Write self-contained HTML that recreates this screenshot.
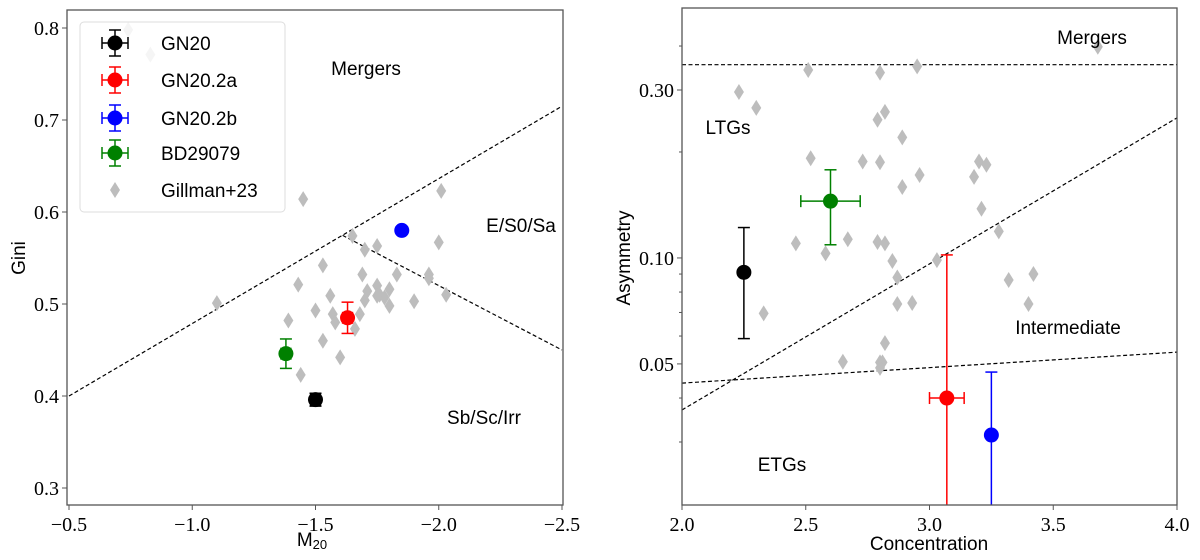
<!DOCTYPE html>
<html><head><meta charset="utf-8"><style>
html,body{margin:0;padding:0;background:#fff;overflow:hidden;width:1200px;height:560px;}
svg{display:block;overflow:hidden;}
text{font-family:"Liberation Sans",sans-serif;fill:#000;}
.tk{font-family:"Liberation Serif",serif;font-size:20px;}
</style></head><body>
<svg id="fig" width="1200" height="560" viewBox="0 0 1200 560"></svg>
<script>
// ---- Left panel data (M20 vs Gini) ----
const gilM20 = [-1.45,-2.01,-1.65,-1.75,-1.70,-2.00,-1.53,-1.69,-1.83,-1.96,-1.96,-1.43,-1.10,-1.56,-1.75,-1.71,-1.80,-1.76,-1.78,-1.75,-1.70,-1.90,-2.03,-1.80,-1.50,-1.57,-1.68,-1.58,-1.39,-1.66,-1.53,-1.60,-1.44,-0.74,-0.83];
const gilGini = [0.614,0.623,0.574,0.563,0.559,0.567,0.542,0.532,0.532,0.532,0.528,0.521,0.501,0.509,0.520,0.514,0.516,0.510,0.507,0.509,0.504,0.503,0.510,0.498,0.493,0.489,0.489,0.480,0.482,0.473,0.460,0.442,0.423,0.798,0.771];
const srcNames = ["GN20","GN20.2a","GN20.2b","BD29079"];
const srcColors = ["#000000","#ff0000","#0000ff","#008000"];
const srcM20 = [-1.50,-1.63,-1.85,-1.38];
const srcM20Err = [0.02,0.02,0.01,0.02];
const srcGini = [0.396,0.485,0.580,0.446];
const srcGiniErr = [0.007,0.017,0.004,0.016];
const leftXTicks = [-0.5,-1.0,-1.5,-2.0,-2.5];
const leftXTickLabels = ["\u22120.5","\u22121.0","\u22121.5","\u22122.0","\u22122.5"];
const leftYTicks = [0.3,0.4,0.5,0.6,0.7,0.8];
const leftYTickLabels = ["0.3","0.4","0.5","0.6","0.7","0.8"];
// ---- Right panel data (Concentration vs Asymmetry) ----
const gilConc = [2.23,2.30,2.51,2.80,2.95,2.82,2.79,2.89,2.52,2.73,2.80,3.20,3.23,2.96,3.18,2.89,3.21,3.28,2.46,2.67,2.79,2.82,2.58,2.85,3.03,2.87,3.32,3.42,2.33,2.87,2.93,3.40,2.82,2.65,2.80,2.81,2.80,3.68];
const gilAsym = [0.296,0.267,0.342,0.336,0.350,0.260,0.247,0.220,0.192,0.188,0.187,0.188,0.184,0.172,0.170,0.159,0.138,0.119,0.110,0.113,0.111,0.110,0.103,0.098,0.0986,0.088,0.0866,0.090,0.0696,0.074,0.0745,0.074,0.0573,0.0507,0.0505,0.0505,0.0487,0.398];
const srcConc = [2.25,3.07,3.25,2.60];
const srcConcErr = [0,0.07,0,0.12];
const srcAsym = [0.091,0.040,0.0314,0.145];
const srcAsymLo = [0.059,0.019,0.019,0.109];
const srcAsymHi = [0.122,0.102,0.0474,0.178];
const rightXTicks = [2.0,2.5,3.0,3.5,4.0];
const rightXTickLabels = ["2.0","2.5","3.0","3.5","4.0"];
const rightYTicks = [0.05,0.10,0.30];
const rightYTickLabels = ["0.05","0.10","0.30"];
const rightYMinor = [0.03,0.04,0.06,0.07,0.08,0.09,0.2,0.4];

const NS="http://www.w3.org/2000/svg";
const svg=document.getElementById('fig');
function mk(tag,attrs,parent){const e=document.createElementNS(NS,tag);for(const k in attrs)e.setAttribute(k,attrs[k]);(parent||svg).appendChild(e);return e;}

const L={x0:67,x1:563,y0:10,y1:505};
const lx=m=>69+(-0.5-m)*246.5;
const ly=g=>28+(0.8-g)*920;
const R={x0:682,x1:1177,y0:8,y1:505};
const rx=c=>682+(c-2)*247.5;
const ry=a=>90-(Math.log10(a)-Math.log10(0.3))*352;

function clip(id,b){const cp=mk('clipPath',{id:id});mk('rect',{x:b.x0,y:b.y0,width:b.x1-b.x0,height:b.y1-b.y0},cp);}
clip('cl',L);clip('cr',R);

function diamond(g,x,y,col){
  return mk('path',{d:`M${x} ${y-8}L${x+5} ${y}L${x} ${y+8}L${x-5} ${y}Z`,fill:col||'#bdbdbd'},g);
}
function errpt(g,x,y,xl,xr,yt,yb,col){
  if(xr-xl>1){mk('line',{x1:xl,y1:y,x2:xr,y2:y,stroke:col,'stroke-width':1.5},g);
    mk('line',{x1:xl,y1:y-6,x2:xl,y2:y+6,stroke:col,'stroke-width':1.5},g);
    mk('line',{x1:xr,y1:y-6,x2:xr,y2:y+6,stroke:col,'stroke-width':1.5},g);}
  mk('line',{x1:x,y1:yt,x2:x,y2:yb,stroke:col,'stroke-width':1.5},g);
  mk('line',{x1:x-6,y1:yt,x2:x+6,y2:yt,stroke:col,'stroke-width':1.5},g);
  mk('line',{x1:x-6,y1:yb,x2:x+6,y2:yb,stroke:col,'stroke-width':1.5},g);
  mk('circle',{cx:x,cy:y,r:7.5,fill:col},g);
}

// ---------- LEFT ----------
const gl=mk('g',{'clip-path':'url(#cl)'});


const l1=mk('line',{x1:lx(-0.5),y1:ly(0.40),x2:lx(-2.5),y2:ly(0.715),stroke:'#000','stroke-width':1.2,'stroke-dasharray':'4 2.5'},gl);

const mi=(0.80-0.321)/(-0.1575-0.14);
const l2=mk('line',{x1:lx(mi),y1:ly(0.14*mi+0.80),x2:lx(-2.5),y2:ly(0.45),stroke:'#000','stroke-width':1.2,'stroke-dasharray':'4 2.5'},gl);

gilM20.forEach((m,i)=>{const d=diamond(gl,lx(m),ly(gilGini[i]));

});
srcM20.forEach((m,i)=>{const g=mk('g',{},gl);


errpt(g,lx(m),ly(srcGini[i]),lx(m+srcM20Err[i]),lx(m-srcM20Err[i]),ly(srcGini[i]+srcGiniErr[i]),ly(srcGini[i]-srcGiniErr[i]),srcColors[i]);});
mk('rect',{x:L.x0,y:L.y0,width:L.x1-L.x0,height:L.y1-L.y0,fill:'none',stroke:'#555','stroke-width':1.3});
leftXTicks.forEach((t,i)=>{mk('line',{x1:lx(t),y1:L.y1,x2:lx(t),y2:L.y1+5,stroke:'#555'});
const tx=mk('text',{x:lx(t),y:531,'text-anchor':'middle',class:'tk'});tx.textContent=leftXTickLabels[i];
});
leftYTicks.forEach((t,i)=>{mk('line',{x1:L.x0-5,y1:ly(t),x2:L.x0,y2:ly(t),stroke:'#555'});
const tx=mk('text',{x:L.x0-8,y:ly(t)+7,'text-anchor':'end',class:'tk'});tx.textContent=leftYTickLabels[i];
});
let t;
t=mk('text',{x:312,y:546,'text-anchor':'middle','font-size':19});t.innerHTML='M<tspan font-size="13" dy="3">20</tspan>';
t=mk('text',{x:0,y:0,'text-anchor':'middle','font-size':19,transform:'translate(25,258) rotate(-90)'});t.textContent='Gini';
t=mk('text',{x:366,y:75,'text-anchor':'middle','font-size':19});t.textContent='Mergers';
t=mk('text',{x:521,y:232,'text-anchor':'middle','font-size':19});t.textContent='E/S0/Sa';
t=mk('text',{x:484,y:424,'text-anchor':'middle','font-size':19});t.textContent='Sb/Sc/Irr';
// legend
const lg=mk('g',{});


mk('rect',{x:80,y:22,width:205,height:190,rx:4,fill:'rgba(255,255,255,0.85)',stroke:'#ddd'},lg);
const ly0=[43,80,118,153];
srcNames.forEach((n,i)=>{const e=mk('g',{},lg);


errpt(e,115,ly0[i],102,128,ly0[i]-13,ly0[i]+13,srcColors[i]);
const tt=mk('text',{x:161,y:ly0[i]+7,'font-size':19},e);tt.textContent=n;});
{const e=mk('g',{},lg);
diamond(e,115,190);const tt=mk('text',{x:161,y:197,'font-size':19},e);tt.textContent='Gillman+23';}

// ---------- RIGHT ----------
const gr=mk('g',{'clip-path':'url(#cr)'});


const r1=mk('line',{x1:R.x0,y1:ry(0.354),x2:R.x1,y2:ry(0.354),stroke:'#000','stroke-width':1.2,'stroke-dasharray':'4 2.5'},gr);

const r2=mk('line',{x1:rx(2),y1:ry(0.0370),x2:rx(4),y2:ry(0.250),stroke:'#000','stroke-width':1.2,'stroke-dasharray':'4 2.5'},gr);

const r3=mk('line',{x1:rx(2),y1:ry(0.0441),x2:rx(4),y2:ry(0.0540),stroke:'#000','stroke-width':1.2,'stroke-dasharray':'4 2.5'},gr);

gilConc.forEach((c,i)=>{const d=diamond(gr,rx(c),ry(gilAsym[i]));

});
srcConc.forEach((c,i)=>{const g=mk('g',{},gr);


errpt(g,rx(c),ry(srcAsym[i]),rx(c-srcConcErr[i]),rx(c+srcConcErr[i]),ry(srcAsymHi[i]),ry(srcAsymLo[i]),srcColors[i]);});
mk('rect',{x:R.x0,y:R.y0,width:R.x1-R.x0,height:R.y1-R.y0,fill:'none',stroke:'#555','stroke-width':1.3});
rightXTicks.forEach((v,i)=>{mk('line',{x1:rx(v),y1:R.y1,x2:rx(v),y2:R.y1+5,stroke:'#555'});
const tx=mk('text',{x:rx(v),y:531,'text-anchor':'middle',class:'tk'});tx.textContent=rightXTickLabels[i];
});
rightYTicks.forEach((v,i)=>{mk('line',{x1:R.x0-5,y1:ry(v),x2:R.x0,y2:ry(v),stroke:'#555'});
const tx=mk('text',{x:R.x0-8,y:ry(v)+7,'text-anchor':'end',class:'tk'});tx.textContent=rightYTickLabels[i];
});
rightYMinor.forEach(v=>{mk('line',{x1:R.x0-3,y1:ry(v),x2:R.x0,y2:ry(v),stroke:'#555'});});
t=mk('text',{x:929,y:550,'text-anchor':'middle','font-size':19});t.textContent='Concentration';
t=mk('text',{x:0,y:0,'text-anchor':'middle','font-size':19,transform:'translate(630,258) rotate(-90)'});t.textContent='Asymmetry';
t=mk('text',{x:1092,y:44,'text-anchor':'middle','font-size':19});t.textContent='Mergers';
t=mk('text',{x:728,y:134,'text-anchor':'middle','font-size':19});t.textContent='LTGs';
t=mk('text',{x:1068,y:334,'text-anchor':'middle','font-size':19});t.textContent='Intermediate';
t=mk('text',{x:782,y:471,'text-anchor':'middle','font-size':19});t.textContent='ETGs';
</script>
</body></html>
